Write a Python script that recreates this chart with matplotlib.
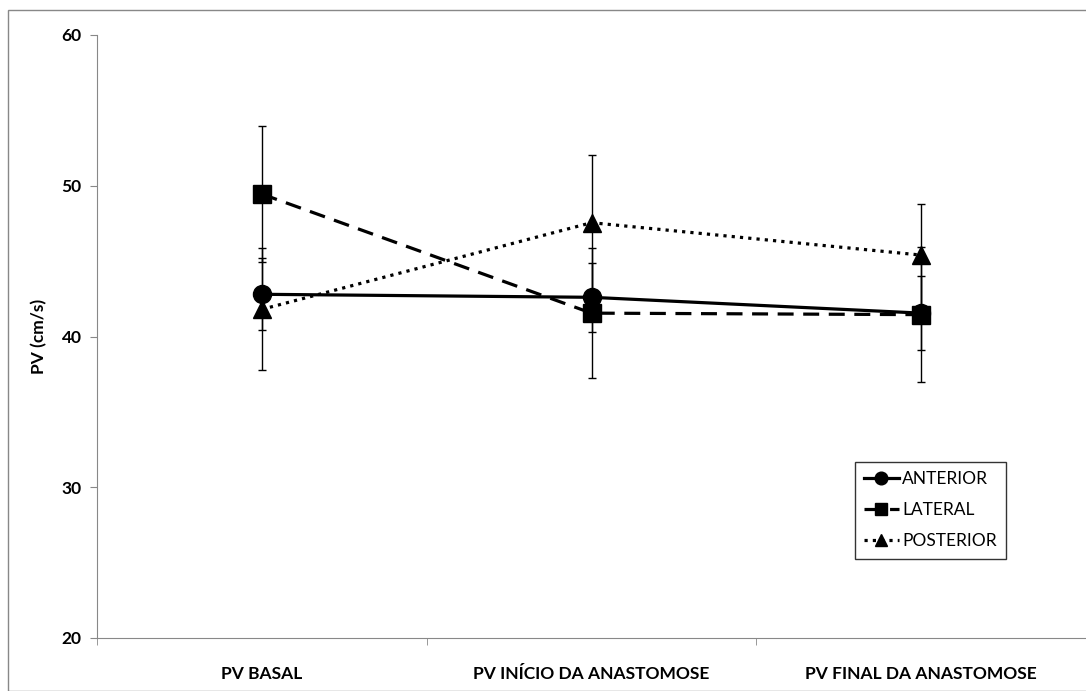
import numpy as np
import matplotlib.pyplot as plt
from matplotlib.patches import Rectangle

# Peak velocity (cm/s) at the three time points, per wall
categories = ["PV BASAL", "PV INÍCIO DA ANASTOMOSE", "PV FINAL DA ANASTOMOSE"]
anterior = [42.8, 42.6, 41.55]
anterior_err = [2.4, 2.3, 2.45]
lateral = [49.45, 41.55, 41.45]
lateral_err = [4.5, 4.3, 4.5]
posterior = [41.8, 47.55, 45.4]
posterior_err = [4.05, 4.5, 3.4]

W, H = 1086, 691
fig = plt.figure(figsize=(W / 100, H / 100), dpi=100)
plt.rcParams['font.family'] = ['Lato', 'DejaVu Sans']

# outer chart frame
fig.patches.append(Rectangle((8 / W, 0), 2, 1 - 10 / H, transform=fig.transFigure,
                             fill=False, edgecolor='#888888', linewidth=1))

ax = fig.add_axes([97 / W, 1 - 638 / H, 989 / W, 603 / H])
x = np.arange(len(categories))

series = [
    ("ANTERIOR", anterior, anterior_err, '-', 'o', 13),
    ("LATERAL", lateral, lateral_err, (0, (5, 3)), 's', 13),
    ("POSTERIOR", posterior, posterior_err, (0, (1, 1.6)), '^', 13),
]
for name, vals, err, ls, mk, ms in series:
    ax.errorbar(x, vals, yerr=err, fmt='none', ecolor='black', elinewidth=1,
                capsize=3, capthick=1, zorder=2)
    ax.plot(x, vals, color='black', linestyle=ls, linewidth=2.3, marker=mk,
            markersize=ms, label=name, zorder=3)

ax.set_xlim(-0.5, 2.5)
ax.set_ylim(20, 60)
ax.set_yticks([20, 30, 40, 50, 60])
ax.set_xticks(x)
ax.set_xticklabels(categories, fontsize=12.5, fontweight='bold')
ax.set_xticks([-0.5, 0.5, 1.5, 2.5], minor=True)
ax.tick_params(axis='x', which='major', length=0, pad=20)
ax.tick_params(axis='x', which='minor', length=5, color='#888888')
ax.tick_params(axis='y', length=5, color='#888888', labelsize=12.5, pad=6)
for lab in ax.get_yticklabels():
    lab.set_fontweight('bold')
ax.set_ylabel("PV (cm/s)", fontsize=12.5, fontweight='bold', labelpad=10)

for side in ('top', 'right'):
    ax.spines[side].set_visible(False)
for side in ('left', 'bottom'):
    ax.spines[side].set_color('#888888')

leg = ax.legend(loc='upper left', bbox_to_anchor=(0.766, 0.292), fontsize=12.5,
                handlelength=2.0, handletextpad=0.2, fancybox=False,
                edgecolor='black', borderpad=0.55, labelspacing=0.85,
                borderaxespad=0, markerscale=0.7)
leg.get_frame().set_linewidth(1)

fig.savefig("out.png", dpi=100)
